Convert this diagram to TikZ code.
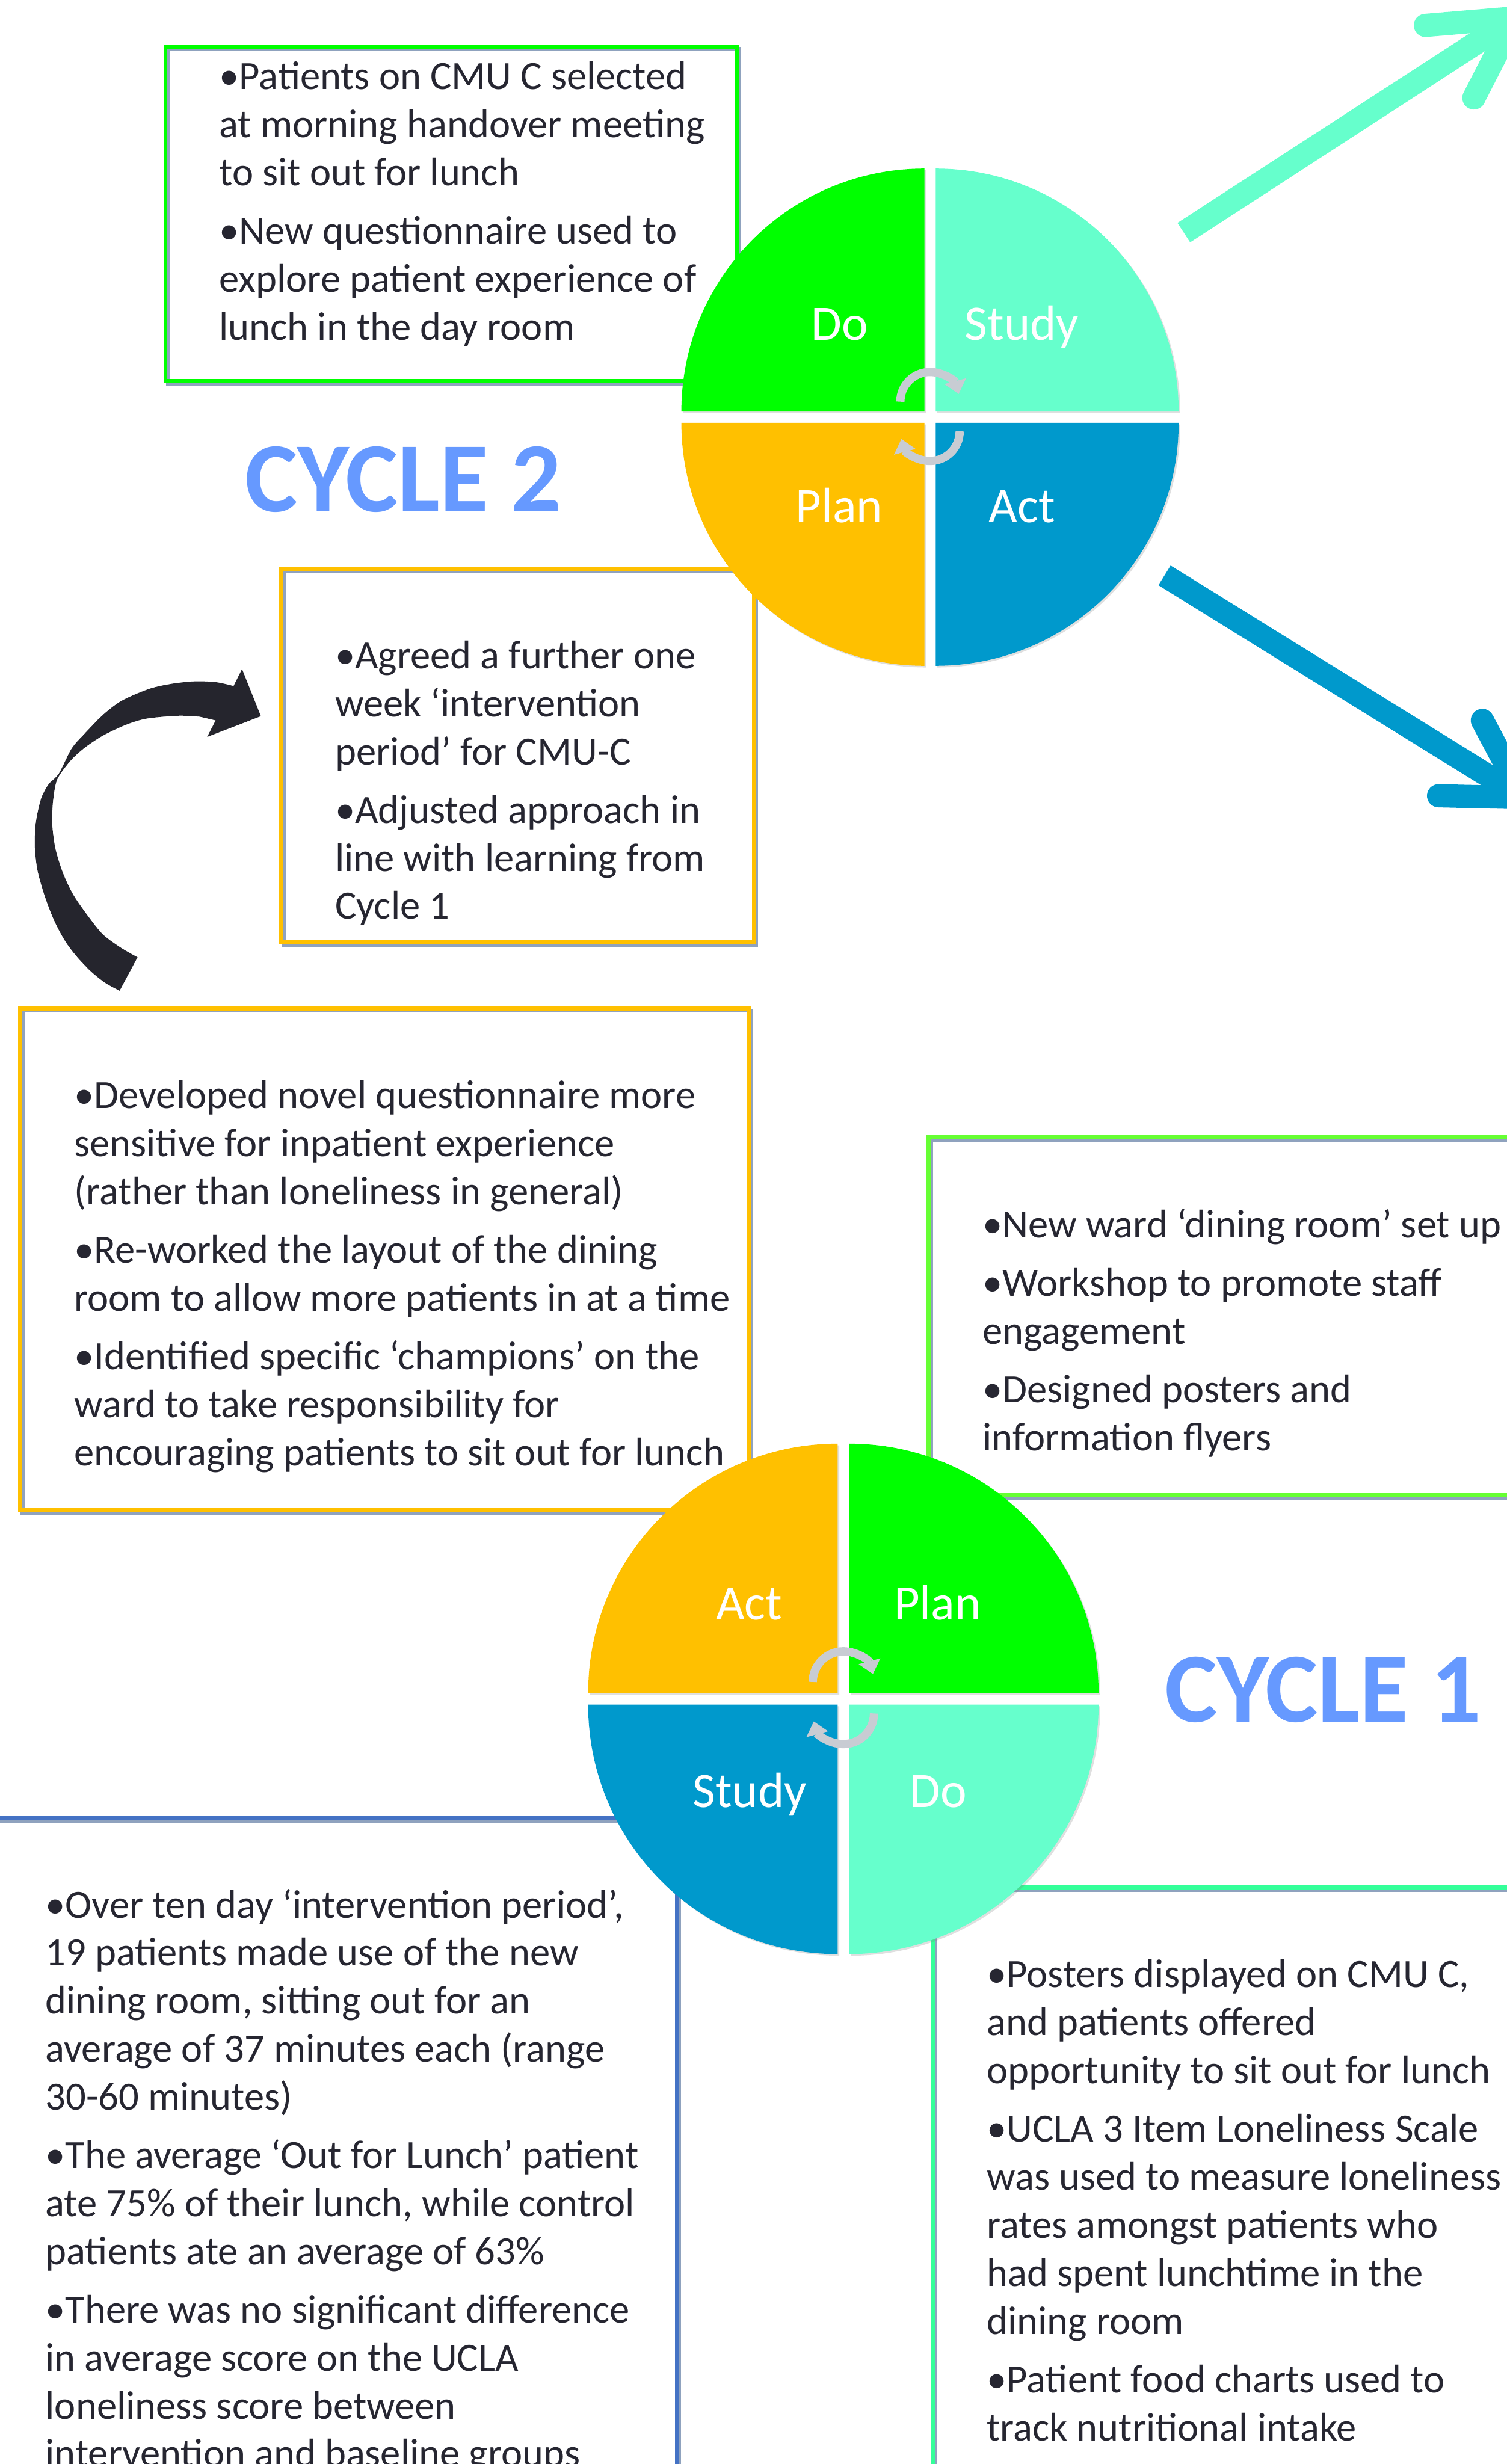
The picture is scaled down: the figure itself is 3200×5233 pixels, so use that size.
\documentclass[tikz,border=0pt]{standalone}
\usepackage{fontspec}
\setmainfont{Carlito}
\usepackage{xcolor}
\usetikzlibrary{arrows.meta,calc,shadows}
\definecolor{pdGreen}{HTML}{00FF00}
\definecolor{pdMint}{HTML}{66FFCC}
\definecolor{pdGold}{HTML}{FFC000}
\definecolor{pdBlue}{HTML}{0099CC}
\definecolor{pdLime}{HTML}{66FF33}
\definecolor{pdSea}{HTML}{33FF99}
\definecolor{pdNavy}{HTML}{4472C4}
\definecolor{pdHead}{HTML}{6699FF}
\definecolor{pdInk}{HTML}{262631}
\definecolor{pdDark}{HTML}{25252D}
\definecolor{pdCog}{HTML}{C8CCD3}
\definecolor{pdShade}{HTML}{8FA2BE}
\newcommand{\firstline}{\rule{0pt}{20pt}}

\tikzset{
  boxframe/.style={draw=#1, line width=2.5pt, inner sep=0pt, anchor=north west,
    preaction={draw=pdShade, line width=2.5pt, transform canvas={shift={(5,5)}}}},
  txt/.style={anchor=north west, inner sep=0pt, align=left, text=pdInk,
    font=\fontsize{24.2}{29}\selectfont},
  quad/.style={white, font=\fontsize{30}{36}\selectfont, anchor=base, inner sep=0pt},
  heading/.style={pdHead, font=\fontsize{60}{72}\selectfont\bfseries, anchor=base west, inner sep=0pt},
  qshadow/.style={drop shadow={opacity=0.25, shadow xshift=1pt, shadow yshift=-1pt}},
  cog/.style={draw=pdCog, line width=5pt, -{Triangle[width=13pt,length=8pt]}},
  bigarrow/.style={line width=14pt, line cap=butt},
  barb/.style={line width=14pt, line cap=round, line join=round},
}

\begin{document}
\begin{tikzpicture}[x=0.01cm, y=-0.01cm]
\useasboundingbox (0,0) rectangle (3200,5233);
\clip (0,0) rectangle (3200,5233);

% text boxes
\node[boxframe=pdGreen, minimum width=12.13cm, minimum height=7.10cm] (f2do) at (347,95) {};
\node[boxframe=pdGold, minimum width=10.03cm, minimum height=7.94cm] (f2plan) at (593,1203) {};
\node[boxframe=pdGold, minimum width=15.47cm, minimum height=10.65cm] (f1act) at (38,2137) {};
\node[boxframe=pdLime, minimum width=13.0cm, minimum height=7.60cm] (f1plan) at (1968,2411) {};
\node[boxframe=pdNavy, minimum width=14.92cm, minimum height=15cm] (f1study) at (-60,3857) {};
\node[boxframe=pdSea, minimum width=13.0cm, minimum height=15cm] (f1do) at (1977,4004) {};

\node[txt] (t2do) at ($(f2do.north west)+(118,24)$) {%
  \firstline•Patients on CMU C selected\\ at morning handover meeting\\ to sit out for lunch\\[6.3pt]
  •New questionnaire used to\\ explore patient experience of\\ lunch in the day room};
\node[txt] (t2plan) at ($(f2plan.north west)+(118,146)$) {%
  \firstline•Agreed a further one\\ week ‘intervention\\ period’ for CMU-C\\[6.3pt]
  •Adjusted approach in\\ line with learning from\\ Cycle 1};
\node[txt] (t1act) at ($(f1act.north west)+(119,146)$) {%
  \firstline•Developed novel questionnaire more\\ sensitive for inpatient experience\\ (rather than loneliness in general)\\[6.3pt]
  •Re-worked the layout of the dining\\ room to allow more patients in at a time\\[6.3pt]
  •Identified specific ‘champions’ on the\\ ward to take responsibility for\\ encouraging patients to sit out for lunch};
\node[txt] (t1plan) at ($(f1plan.north west)+(118,146)$) {%
  \firstline•New ward ‘dining room’ set up\\[6.3pt]
  •Workshop to promote staff\\ engagement\\[6.3pt]
  •Designed posters and\\ information flyers};
\node[txt] (t1study) at ($(f1study.north west)+(156,145)$) {%
  \firstline•Over ten day ‘intervention period’,\\ 19 patients made use of the new\\ dining room, sitting out for an\\ average of 37 minutes each (range\\ 30-60 minutes)\\[6.3pt]
  •The average ‘Out for Lunch’ patient\\ ate 75\% of their lunch, while control\\ patients ate an average of 63\%\\[6.3pt]
  •There was no significant difference\\ in average score on the UCLA\\ loneliness score between\\ intervention and baseline groups};
\node[txt] (t1do) at ($(f1do.north west)+(118,146)$) {%
  \firstline•Posters displayed on CMU C,\\ and patients offered\\ opportunity to sit out for lunch\\[6.3pt]
  •UCLA 3 Item Loneliness Scale\\ was used to measure loneliness\\ rates amongst patients who\\ had spent lunchtime in the\\ dining room\\[6.3pt]
  •Patient food charts used to\\ track nutritional intake};

\node[heading] (head2) at (520,1087) {CYCLE 2};
\node[heading] (head1) at (2473,3657) {CYCLE 1};

% curved arrow from cycle 1 to cycle 2
\fill[pdDark] plot[smooth] coordinates {(254,2104) (223,2087) (192,2062) (161,2029) (138,1998) (116,1957)
    (96,1906) (80,1850) (74,1799) (76,1748) (87,1697) (103,1666) (125,1643) (152,1590) (179,1559)
    (219,1518) (259,1488) (317,1463) (366,1452) (415,1447) (460,1449) (496,1457)}
  -- (514,1421) -- (554,1521) -- (440,1565) -- (458,1530)
  -- plot[smooth] coordinates {(424,1522) (379,1520) (312,1526) (268,1539) (219,1562) (181,1587)
    (152,1613) (127,1645) (118,1666) (112,1707) (111,1753) (118,1804) (134,1855) (156,1901)
    (188,1947) (219,1985) (257,2013) (292,2033)} -- cycle;

% cycle 2 wheel
\coordinate (hub2) at (1975,886);
\def\rad{516}
\fill[pdGreen, qshadow] ($(hub2)+(-12,-12)$) -- ++(-\rad,0) arc[start angle=180, end angle=270, radius=\rad] -- cycle;
\fill[pdMint, qshadow] ($(hub2)+(12,-12)$) -- ++(0,-\rad) arc[start angle=270, end angle=360, radius=\rad] -- cycle;
\fill[pdBlue, qshadow] ($(hub2)+(12,12)$) -- ++(\rad,0) arc[start angle=0, end angle=90, radius=\rad] -- cycle;
\fill[pdGold, qshadow] ($(hub2)+(-12,12)$) -- ++(0,\rad) arc[start angle=90, end angle=180, radius=\rad] -- cycle;
\draw[cog] ($(hub2)+(-63,-33)$) arc[start angle=180, end angle=345, radius=63];
\draw[cog] ($(hub2)+(63,30)$) arc[start angle=0, end angle=165, radius=63];
\node[quad] (do2) at ($(hub2)+(-192,-164)$) {Do};
\node[quad] (study2) at ($(hub2)+(195,-164)$) {Study};
\node[quad] (plan2) at ($(hub2)+(-193,223)$) {Plan};
\node[quad] (act2) at ($(hub2)+(195,223)$) {Act};

% cycle 1 wheel
\coordinate (hub1) at (1791,3608);
\def\rad{530}
\fill[pdGold, qshadow] ($(hub1)+(-12,-12)$) -- ++(-\rad,0) arc[start angle=180, end angle=270, radius=\rad] -- cycle;
\fill[pdGreen, qshadow] ($(hub1)+(12,-12)$) -- ++(0,-\rad) arc[start angle=270, end angle=360, radius=\rad] -- cycle;
\fill[pdMint, qshadow] ($(hub1)+(12,12)$) -- ++(\rad,0) arc[start angle=0, end angle=90, radius=\rad] -- cycle;
\fill[pdBlue, qshadow] ($(hub1)+(-12,12)$) -- ++(0,\rad) arc[start angle=90, end angle=180, radius=\rad] -- cycle;
\draw[cog] ($(hub1)+(-65,-36)$) arc[start angle=180, end angle=345, radius=65];
\draw[cog] ($(hub1)+(65,31)$) arc[start angle=0, end angle=165, radius=65];
\node[quad] (act1) at ($(hub1)+(-200,-168)$) {Act};
\node[quad] (plan1) at ($(hub1)+(200,-168)$) {Plan};
\node[quad] (study1) at ($(hub1)+(-199,230)$) {Study};
\node[quad] (do1) at ($(hub1)+(202,230)$) {Do};

% arrows leaving cycle 2
\coordinate (mintTail) at (2514,494);
\coordinate (mintTip) at (3217,38);
\draw[bigarrow, pdMint] (mintTail) -- (mintTip);
\draw[barb, pdMint] (3027,54) -- (mintTip) -- (3130,208);
\coordinate (blueTail) at (2473,1222);
\coordinate (blueTip) at (3235,1694);
\draw[bigarrow, pdBlue] (blueTail) -- (blueTip);
\draw[barb, pdBlue] (3148,1530) -- (blueTip) -- (3055,1690);
\end{tikzpicture}
\end{document}
